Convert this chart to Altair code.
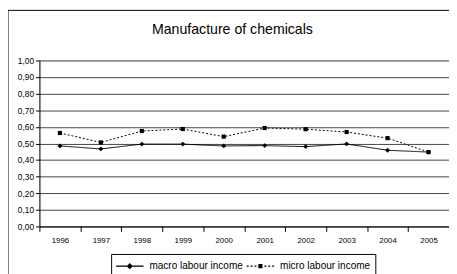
import altair as alt
import pandas as pd

years = ["1996", "1997", "1998", "1999", "2000", "2001", "2002", "2003", "2004", "2005"]
macro = [0.485, 0.467, 0.496, 0.496, 0.485, 0.487, 0.481, 0.497, 0.459, 0.448]
micro = [0.563, 0.506, 0.575, 0.587, 0.541, 0.593, 0.586, 0.569, 0.532, 0.448]
series_names = ["macro labour income", "micro labour income"]
y_ticks = [0.0, 0.1, 0.2, 0.3, 0.4, 0.5, 0.6, 0.7, 0.8, 0.9, 1.0]

rows = []
for y, a, b in zip(years, macro, micro):
    rows.append({"year": y, "series": series_names[0], "value": a})
    rows.append({"year": y, "series": series_names[1], "value": b})
df = pd.DataFrame(rows)

FONT = "Liberation Sans"

x_enc = alt.X("year:N", sort=years, title=None,
              scale=alt.Scale(paddingInner=0, paddingOuter=0),
              axis=alt.Axis(tickBand="extent", labelAngle=0, labelFontSize=8,
                            labelFont=FONT, labelColor="black", domainColor="black",
                            tickColor="black", tickSize=5, labelPadding=5, grid=False))
y_enc = alt.Y("value:Q", title=None,
              scale=alt.Scale(domain=[0, 1], nice=False, zero=True),
              axis=alt.Axis(values=y_ticks, labelOverlap=False,
                            labelExpr="replace(format(datum.value, '.2f'), '.', ',')",
                            labelFontSize=8.5, labelFont=FONT, labelColor="black",
                            domainColor="black", tickColor="black", tickSize=4,
                            labelPadding=2, grid=True, gridColor="#444", gridWidth=1))

base = alt.Chart(df).encode(x=x_enc, y=y_enc)

lines = base.mark_line(color="black", strokeWidth=1).encode(
    strokeDash=alt.StrokeDash("series:N",
                              scale=alt.Scale(domain=series_names, range=[[1, 0], [2, 2]]),
                              legend=None),
    detail="series:N",
)

points = base.mark_point(filled=True, color="black", opacity=1).encode(
    shape=alt.Shape("series:N",
                    scale=alt.Scale(domain=series_names, range=["diamond", "square"]),
                    legend=None),
    size=alt.Size("series:N", scale=alt.Scale(domain=series_names, range=[24, 18]), legend=None),
)

# legend symbols: line drawn as thin filled rectangles plus the marker
h = 0.075
macro_sym = (f"M-2,-{h}L2,-{h}L2,{h}L-2,{h}Z"
             "M0,-0.45L0.45,0L0,0.45L-0.45,0Z")
dash_segs = [(-2, -1.71), (-1.43, -1.14), (-0.86, -0.57), (0.57, 0.86), (1.14, 1.43), (1.71, 2)]
micro_sym = "".join(f"M{a},-{h}L{b},-{h}L{b},{h}L{a},{h}Z" for a, b in dash_segs)
micro_sym += "M-0.3,-0.3L0.3,-0.3L0.3,0.3L-0.3,0.3Z"

legend_layer = base.transform_filter("false").mark_point(filled=True, color="black").encode(
    shape=alt.Shape("series:N",
                    scale=alt.Scale(domain=series_names, range=[macro_sym, micro_sym]),
                    legend=alt.Legend(
                        title=None, orient="none", direction="horizontal",
                        legendX=73, legendY=197,
                        strokeColor="black", fillColor="white", padding=5,
                        labelFont=FONT, labelFontSize=10.2, labelColor="black",
                        symbolSize=196, symbolOffset=7, columnPadding=3, labelOffset=13,
                        symbolFillColor="black", symbolStrokeColor="black",
                        symbolStrokeWidth=0, symbolOpacity=1)),
)

border = alt.Chart(alt.Data(values=[{}])).mark_rect(
    fill="transparent", stroke="black", strokeWidth=1).encode(
    x=alt.value(-32), y=alt.value(-51), x2=alt.value(440), y2=alt.value(240))

chart = alt.layer(border, lines, points, legend_layer).resolve_scale(
    shape="independent"
).properties(
    width=417, height=169,
    title=alt.Title("Manufacture of chemicals", font=FONT, fontSize=14.4,
                    fontWeight="normal", color="black", anchor="middle", dx=-12, dy=32),
    autosize=alt.AutoSizeParams(type="none"),
    padding={"left": 32, "top": 51, "right": 0, "bottom": 46},
).configure_view(stroke=None).configure(background="white")

chart.save("out.html", embed_options={"renderer": "svg", "actions": False})
